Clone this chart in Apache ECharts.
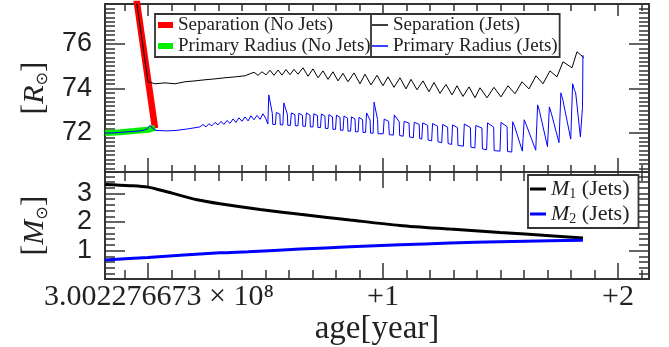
<!DOCTYPE html>
<html><head><meta charset="utf-8">
<script src="https://cdn.jsdelivr.net/npm/echarts@6/dist/echarts.min.js"></script>
<style>html,body{margin:0;padding:0;background:#fff}#c{width:669px;height:347px}</style>
</head><body><div id="c"></div>
<script>
// ---- data (x: age offset in axis units, y: value) ----
const xTickValues = [0, 1, 2];
const xTickLabels = ['3.002276673 × 10⁸', '+1', '+2'];
const rTickValues = [72, 74, 76];
const mTickValues = [1, 2, 3];

const sepNoJets = [[-0.049, 78.0], [0.030, 72.21]];
const radNoJets = [[-0.183, 71.99], [-0.12, 72.03], [-0.06, 72.08], [0.0, 72.14], [0.03, 72.23]];

const sepJets = [
 [-0.0498,77.99],[0,74.30],[0.0298,74.21],[0.0723,74.25],[0.1149,74.21],[0.1574,74.30],[0.2,74.34],
 [0.2426,74.39],[0.2851,74.43],[0.3277,74.48],[0.3702,74.52],[0.4128,74.57],
 [0.4511,74.73],[0.4681,74.59],[0.4851,74.75],[0.5021,74.61],[0.5191,74.82],[0.5362,74.59],
 [0.5532,74.83],[0.5702,74.60],[0.5872,74.85],[0.6043,74.62],[0.6213,74.86],[0.6383,74.64],
 [0.6596,74.93],[0.6809,74.55],[0.7021,74.88],[0.7234,74.48],[0.7447,74.79],[0.7660,74.41],
 [0.7872,74.75],[0.8085,74.34],[0.8298,74.68],[0.8511,74.30],
 [0.8766,74.70],[0.9021,74.21],[0.9234,74.64],[0.9489,74.16],[0.9745,74.59],[1.0,74.12],
 [1.0213,74.52],[1.0468,74.05],[1.0723,74.48],[1.0979,73.98],[1.1191,74.41],[1.1447,73.94],
 [1.1702,74.34],[1.1957,73.85],[1.2170,74.27],[1.2426,73.78],[1.2681,74.18],[1.2936,73.71],
 [1.3149,74.12],[1.3404,73.64],[1.3660,74.07],[1.3915,73.58],[1.4128,74.03],
 [1.4426,73.58],[1.4723,74.05],[1.5021,73.62],[1.5319,74.12],[1.5617,73.76],[1.5915,74.30],
 [1.6213,73.98],[1.6511,74.57],[1.6809,74.21],[1.7106,74.79],[1.7404,74.52],[1.7660,75.20],
 [1.8043,74.93],[1.8255,75.65],[1.8553,75.38]
];

const radJets = [
 [-0.183,71.99],[-0.153,72.0],[-0.119,72.02],[-0.085,72.05],[-0.051,72.07],[-0.021,72.11],
 [-0.004,72.18],[0.009,72.34],[0.017,72.23],[0.034,72.11],[0.077,72.09],[0.119,72.11],
 [0.170,72.18],[0.221,72.27],
 [0.234,72.38],[0.247,72.27],[0.259,72.41],[0.272,72.32],[0.285,72.47],[0.298,72.36],
 [0.311,72.52],[0.323,72.38],[0.336,72.56],[0.349,72.43],[0.362,72.63],[0.374,72.47],
 [0.387,72.68],[0.400,72.52],[0.413,72.72],[0.426,72.54],[0.438,72.77],[0.451,72.59],
 [0.464,72.79],[0.477,72.61],[0.489,72.86],[0.502,72.63],
 [0.510,72.40],[0.514,73.71],[0.529,72.88],[0.531,72.38],
 [0.542,72.38],[0.546,72.92],[0.561,72.84],[0.563,72.36],
 [0.574,72.36],[0.578,73.35],[0.593,72.84],[0.595,72.34],
 [0.606,72.34],[0.610,72.90],[0.625,72.82],[0.627,72.32],
 [0.638,72.32],[0.642,72.88],[0.657,72.80],[0.659,72.30],
 [0.670,72.30],[0.674,72.90],[0.689,72.80],[0.691,72.27],
 [0.702,72.27],[0.706,72.86],[0.721,72.78],[0.723,72.24],
 [0.734,72.24],[0.738,72.85],[0.753,72.75],[0.755,72.20],
 [0.766,72.20],[0.770,72.82],[0.785,72.72],[0.787,72.16],
 [0.798,72.16],[0.802,72.80],[0.817,72.70],[0.819,72.12],
 [0.830,72.12],[0.834,72.76],[0.849,72.66],[0.851,72.08],
 [0.862,72.08],[0.866,72.72],[0.881,72.62],[0.883,72.05],
 [0.894,72.05],[0.898,72.70],[0.913,72.60],[0.915,72.02],
 [0.926,72.02],[0.930,72.90],[0.945,72.58],[0.947,71.99],
 [0.958,71.99],[0.962,73.38],[0.977,72.60],[0.979,71.96],
 [1.001,71.96],[1.005,72.62],[1.024,72.52],[1.027,71.92],
 [1.044,71.90],[1.048,72.81],[1.069,72.50],[1.071,71.88],
 [1.086,71.85],[1.090,72.52],[1.111,72.44],[1.113,71.82],
 [1.129,71.78],[1.133,72.48],[1.154,72.38],[1.156,71.75],
 [1.165,71.72],[1.169,72.45],[1.190,72.34],[1.192,71.68],
 [1.207,71.64],[1.211,72.42],[1.232,72.30],[1.234,71.60],
 [1.250,71.56],[1.254,72.38],[1.275,72.26],[1.277,71.52],
 [1.292,71.48],[1.296,72.36],[1.317,72.24],[1.319,71.44],
 [1.342,71.40],[1.346,72.40],[1.372,72.24],[1.374,71.36],
 [1.391,71.32],[1.395,72.33],[1.421,72.22],[1.423,71.28],
 [1.441,71.24],[1.445,72.45],[1.471,72.26],[1.473,71.20],
 [1.498,71.18],[1.502,72.47],[1.528,72.28],[1.530,71.16],
 [1.548,71.14],[1.552,72.50],[1.560,72.30],[1.593,71.18],
 [1.597,71.18],[1.601,72.59],[1.609,72.38],[1.650,71.22],
 [1.654,71.24],[1.658,73.26],[1.666,72.98],[1.670,72.95],[1.700,71.38],
 [1.704,71.40],[1.708,73.17],[1.716,72.90],[1.749,71.56],
 [1.753,71.58],[1.757,73.80],[1.765,73.50],[1.770,73.45],[1.799,71.72],
 [1.803,71.74],[1.807,74.21],[1.815,73.92],[1.820,73.80],[1.840,71.82],
 [1.849,73.15],[1.851,75.50]
];

const m1Jets = [[-0.183,3.31],[-0.077,3.27],[0,3.22],[0.051,3.12],[0.106,3.00],[0.209,2.78],
 [0.306,2.64],[0.477,2.44],[0.647,2.27],[0.860,2.07],[1.072,1.88],[1.285,1.75],[1.498,1.63],
 [1.711,1.52],[1.851,1.44]];
const m2Jets = [[-0.183,0.67],[0,0.76],[0.306,0.92],[0.426,0.96],[0.647,1.05],[0.860,1.13],
 [1.072,1.20],[1.285,1.26],[1.498,1.31],[1.711,1.34],[1.851,1.36]];

// ---- axes ----
const xMin = -0.183, xMax = 2.132;
const rMin = 70.24, rMax = 77.8;
const mMin = 0, mMax = 3.75;

function minorTicks(min, max, step, skip) {
  const out = [];
  for (let k = Math.ceil(min / step - 1e-9); k * step <= max + 1e-9; k++) {
    const v = +(k * step).toFixed(6);
    if (!skip.some(s => Math.abs(s - v) < 1e-6)) out.push(v);
  }
  return out;
}
const xMinor = minorTicks(xMin, xMax, 0.1, xTickValues);
const rMinor = minorTicks(rMin, rMax, 0.2, rTickValues);
const mMinor = minorTicks(mMin, mMax, 0.2, mTickValues);

const AX = '#333';
function ax(grid, pos, min, max, ticks, len, line, extra) {
  return Object.assign({
    type: 'value', gridIndex: grid, position: pos, min: min, max: max,
    axisLine: { show: line, onZero: false, lineStyle: { color: AX, width: 2 } },
    axisTick: { show: true, inside: true, length: len, customValues: ticks, lineStyle: { color: AX, width: 1.5 } },
    axisLabel: { show: false }, splitLine: { show: false }
  }, extra || {});
}
const serif = 'Liberation Serif';
const xAxes = [
  ax(0, 'bottom', xMin, xMax, xTickValues, 14, true),
  ax(0, 'bottom', xMin, xMax, xMinor, 7, false),
  ax(0, 'top', xMin, xMax, xTickValues, 12, true),
  ax(0, 'top', xMin, xMax, xMinor, 7, false),
  ax(1, 'bottom', xMin, xMax, xTickValues, 16, true, {
    axisLabel: { show: true, customValues: xTickValues, margin: 3, color: '#222',
      fontFamily: serif, fontSize: 30,
      formatter: function (v) { const i = xTickValues.indexOf(v); return i === 0 ? '{o|' + xTickLabels[0] + '}' : xTickLabels[i]; },
      rich: { o: { fontFamily: serif, fontSize: 30, color: '#222', padding: [0, 0, 0, 22] } } },
    name: 'age[year]', nameLocation: 'middle', nameGap: 24,
    nameTextStyle: { color: '#222', fontFamily: serif, fontSize: 33 }
  }),
  ax(1, 'bottom', xMin, xMax, xMinor, 9, false),
  ax(1, 'top', xMin, xMax, xTickValues, 16, true),
  ax(1, 'top', xMin, xMax, xMinor, 9, false)
];
const nameRich = {
  b: { fontFamily: serif, fontSize: 32, color: '#222' },
  i: { fontFamily: serif, fontSize: 30, fontStyle: 'italic', color: '#222' },
  s: { fontFamily: 'DejaVu Sans', fontSize: 16, color: '#222', verticalAlign: 'bottom' }
};
const yLabel = { show: true, margin: 13, color: '#222', fontFamily: 'Liberation Sans', fontSize: 27 };
const yAxes = [
  ax(0, 'left', rMin, rMax, rTickValues, 20, true, {
    axisLabel: Object.assign({ customValues: rTickValues }, yLabel),
    name: '{b|[}{i|R}{s|⊙}{b|]}', nameLocation: 'middle', nameRotate: 90, nameGap: 54,
    nameTextStyle: { rich: nameRich }
  }),
  ax(0, 'left', rMin, rMax, rMinor, 10, false),
  ax(0, 'right', rMin, rMax, rTickValues, 20, true),
  ax(0, 'right', rMin, rMax, rMinor, 10, false),
  ax(1, 'left', mMin, mMax, mTickValues, 20, true, {
    axisLabel: Object.assign({ customValues: mTickValues }, yLabel),
    name: '{b|[}{i|M}{s|⊙}{b|]}', nameLocation: 'middle', nameRotate: 90, nameGap: 54,
    nameTextStyle: { rich: nameRich }
  }),
  ax(1, 'left', mMin, mMax, mMinor, 10, false),
  ax(1, 'right', mMin, mMax, mTickValues, 20, true),
  ax(1, 'right', mMin, mMax, mMinor, 10, false)
];

const legendBase = { orient: 'vertical', backgroundColor: '#fff', borderColor: '#333', borderWidth: 1.8,
  borderRadius: 0, selectedMode: false, itemGap: 1, icon: 'rect' };
const chart = echarts.init(document.getElementById('c'), null, { renderer: 'canvas' });
chart.setOption({
  animation: false,
  grid: [{ left: 105, top: 4, width: 544, height: 168 }, { left: 105, top: 172, width: 544, height: 114 }],
  xAxis: xAxes, yAxis: yAxes,
  legend: [
    Object.assign({}, legendBase, { left: 155, top: 14, padding: [1, 6, 1, 3],
      data: ['Separation (No Jets)', 'Primary Radius (No Jets)'], itemWidth: 15, itemHeight: 6, itemTextGap: 2,
      textStyle: { fontFamily: serif, fontSize: 19, lineHeight: 20, color: '#222' } }),
    Object.assign({}, legendBase, { left: 371, top: 14, padding: [1, 2, 1, 1],
      data: ['Separation (Jets)', 'Primary Radius (Jets)'], itemWidth: 16, itemHeight: 1.5, itemTextGap: 2,
      textStyle: { fontFamily: serif, fontSize: 19, lineHeight: 20, color: '#222' } }),
    Object.assign({}, legendBase, { left: 528, top: 175, padding: [2, 9, 2, 2],
      data: ['M1 (Jets)', 'M2 (Jets)'], itemWidth: 16, itemHeight: 3, itemTextGap: 1,
      formatter: function (n) { return '{i|M}{s|' + n.charAt(1) + '}' + n.slice(2); },
      textStyle: { fontFamily: serif, fontSize: 22, lineHeight: 24, color: '#222',
        rich: { i: { fontFamily: serif, fontSize: 22, fontStyle: 'italic', color: '#222' },
                s: { fontFamily: serif, fontSize: 14, color: '#222', verticalAlign: 'bottom' } } } })
  ],
  series: [
    { name: 'Separation (No Jets)', type: 'line', xAxisIndex: 0, yAxisIndex: 0, data: sepNoJets,
      color: '#ff0000', lineStyle: { width: 6.5, color: '#ff0000' }, showSymbol: false, z: 1 },
    { name: 'Primary Radius (No Jets)', type: 'line', xAxisIndex: 0, yAxisIndex: 0, data: radNoJets,
      color: '#00f000', lineStyle: { width: 6, color: '#00f000' }, showSymbol: false, z: 1 },
    { name: 'Separation (Jets)', type: 'line', xAxisIndex: 0, yAxisIndex: 0, data: sepJets,
      color: '#000', lineStyle: { width: 1, color: '#000' }, showSymbol: false, z: 3 },
    { name: 'Primary Radius (Jets)', type: 'line', xAxisIndex: 0, yAxisIndex: 0, data: radJets,
      color: '#0000ff', lineStyle: { width: 1, color: '#0000ff' }, showSymbol: false, z: 3 },
    { name: 'M1 (Jets)', type: 'line', xAxisIndex: 4, yAxisIndex: 4, data: m1Jets, smooth: 0.3,
      color: '#000', lineStyle: { width: 3, color: '#000' }, showSymbol: false, z: 3 },
    { name: 'M2 (Jets)', type: 'line', xAxisIndex: 4, yAxisIndex: 4, data: m2Jets, smooth: 0.3,
      color: '#0000ff', lineStyle: { width: 3, color: '#0000ff' }, showSymbol: false, z: 3 }
  ]
});
</script></body></html>
